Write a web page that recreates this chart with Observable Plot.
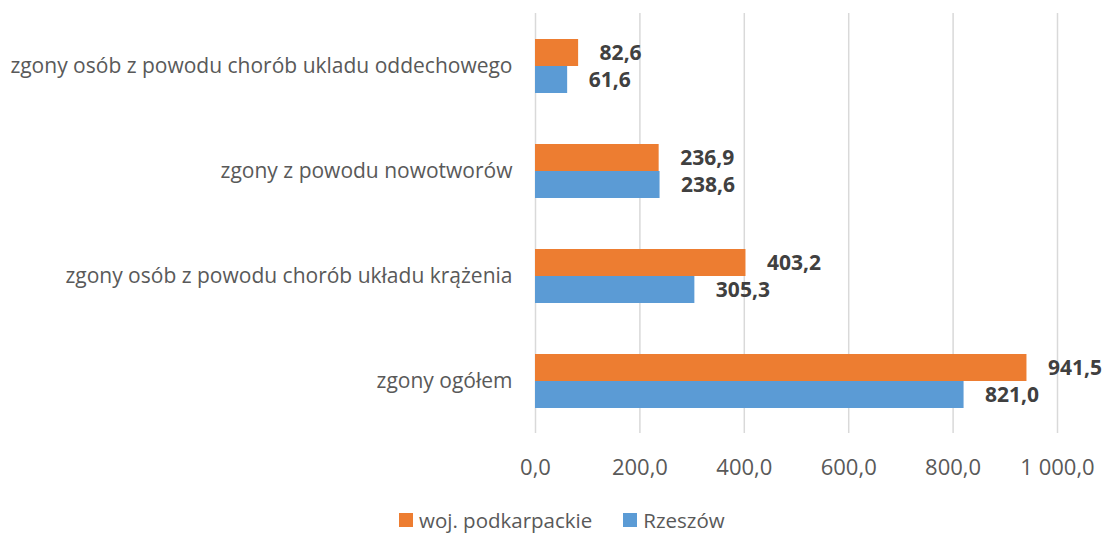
<!DOCTYPE html>
<html><head><meta charset="utf-8">
<script src="https://cdn.jsdelivr.net/npm/d3@7"></script>
<script src="https://cdn.jsdelivr.net/npm/@observablehq/plot@0.6"></script>
<style>
body{margin:0;background:#fff;font-family:"Open Sans",sans-serif;position:relative;width:1107px;height:534px;overflow:hidden}
#legend{position:absolute;top:507px;left:399px;display:flex;align-items:center;font-size:20.5px;color:#595959;line-height:26px}
#legend .item{display:flex;align-items:center;margin-right:31px}
#legend .sw{width:14px;height:14px;margin-right:6px}
</style>
</head><body><div id="chart"></div><div id="legend"></div>
<script>
const categories = [
  "zgony osób z powodu chorób ukladu oddechowego",
  "zgony z powodu nowotworów",
  "zgony osób z powodu chorób układu krążenia",
  "zgony ogółem"
];
const seriesNames = ["woj. podkarpackie", "Rzeszów"];
const podkarpackie = [82.6, 236.9, 403.2, 941.5];
const rzeszow = [61.6, 238.6, 305.3, 821.0];
const xTicks = [0, 200, 400, 600, 800, 1000];
const colors = ["#ED7D31", "#5B9BD5"];

const data = categories.flatMap((c, i) => [
  {category: c, series: seriesNames[0], value: podkarpackie[i]},
  {category: c, series: seriesNames[1], value: rzeszow[i]}
]);
const locale = d3.formatLocale({decimal: ",", thousands: "\u00a0", grouping: [3], currency: ["", ""]});
const fmt = locale.format(",.1f");

const chart = Plot.plot({
  width: 1107, height: 490,
  marginLeft: 535, marginRight: 50, marginTop: 12, marginBottom: 56,
  style: {fontFamily: "'Open Sans', sans-serif", fontSize: "20px", color: "#595959", background: "white"},
  x: {domain: [0, 1000]},
  fy: {domain: categories, padding: 0},
  y: {domain: seriesNames, axis: null, paddingInner: 0, paddingOuter: 0.92},
  color: {domain: seriesNames, range: colors},
  marks: [
    Plot.gridX(xTicks, {stroke: "#d9d9d9", strokeOpacity: 1, strokeWidth: 1.5}),
    Plot.barX(data, {x: "value", y: "series", fy: "category", fill: "series"}),
    Plot.text(data, {x: "value", y: "series", fy: "category", text: d => fmt(d.value),
      textAnchor: "start", dx: 21, fontWeight: "bold", fill: "#404040", fontSize: 21}),
    Plot.axisX({anchor: "bottom", ticks: xTicks, tickFormat: fmt, tickSize: 0, tickPadding: 26, label: null, fill: "#595959", fontSize: 22}),
    Plot.axisFy({anchor: "left", tickSize: 0, tickPadding: 23, label: null, fill: "#595959", fontSize: 21})
  ]
});
document.getElementById("chart").appendChild(chart);

const legend = document.getElementById("legend");
seriesNames.forEach((s, i) => {
  const it = document.createElement("div");
  it.className = "item";
  const sw = document.createElement("span");
  sw.className = "sw";
  sw.style.background = colors[i];
  const t = document.createElement("span");
  t.textContent = s;
  it.appendChild(sw); it.appendChild(t);
  legend.appendChild(it);
});
</script>
</body></html>
